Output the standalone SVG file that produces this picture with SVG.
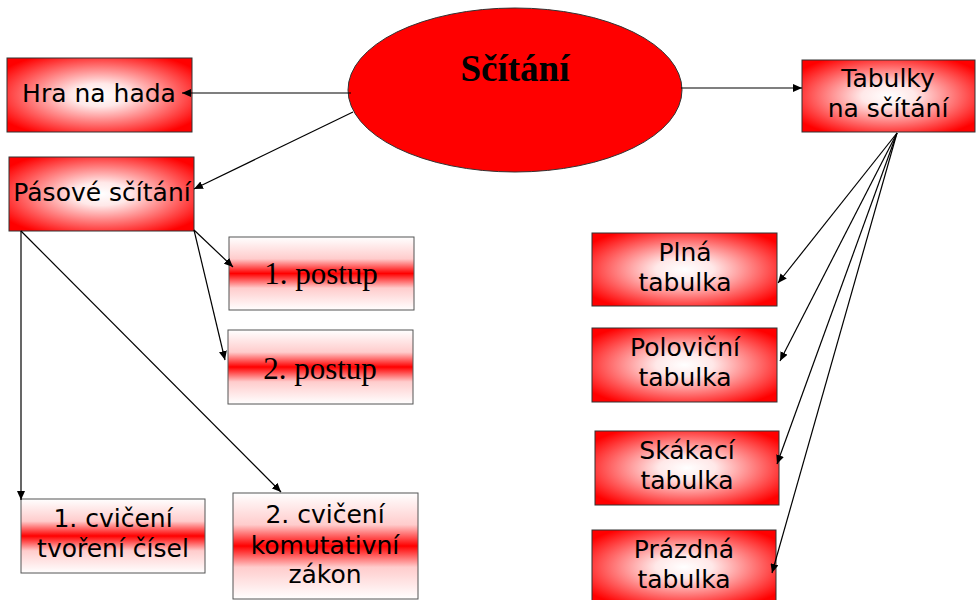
<svg xmlns="http://www.w3.org/2000/svg" width="980" height="600" viewBox="0 0 980 600">
<defs>
<radialGradient id="rg" cx="0.5" cy="0.5" r="0.62">
<stop offset="0" stop-color="#ffffff"/>
<stop offset="0.25" stop-color="#ffe8e8"/>
<stop offset="1" stop-color="#ff0000"/>
</radialGradient>
<linearGradient id="lg" x1="0" y1="0" x2="0" y2="1">
<stop offset="0" stop-color="#ffffff"/>
<stop offset="0.3" stop-color="#ffcccc"/>
<stop offset="0.5" stop-color="#ff0000"/>
<stop offset="0.7" stop-color="#ffcccc"/>
<stop offset="1" stop-color="#ffffff"/>
</linearGradient>
<marker id="ah" markerWidth="9" markerHeight="8" refX="9" refY="4" orient="auto" markerUnits="userSpaceOnUse">
<path d="M0,0 L9,4 L0,8 Z" fill="#000"/>
</marker>
</defs>
<style>
.r{fill:url(#rg);stroke:#333;stroke-width:1}
.l{fill:url(#lg);stroke:#555;stroke-width:1}
.s{font-family:"DejaVu Sans",sans-serif;font-size:25px;fill:#000;text-anchor:middle}
.t{font-family:"Liberation Serif",serif;font-size:31px;fill:#000;text-anchor:middle}
.c line{stroke:#000;stroke-width:1.2;marker-end:url(#ah)}
</style>
<rect width="980" height="600" fill="#fff"/>
<g id="scitani">
<ellipse cx="515" cy="90" rx="167" ry="82" fill="#ff0000" stroke="#333" stroke-width="1"/>
<text x="515" y="81" font-family="Liberation Serif, serif" font-size="37" font-weight="bold" text-anchor="middle">Sčítání</text>
</g>
<g id="hra">
<rect class="r" x="7" y="58" width="185" height="74"/>
<text class="s" x="99" y="102">Hra na hada</text>
</g>
<g id="pasove">
<rect class="r" x="9" y="157" width="185" height="74"/>
<text class="s" x="102" y="201">Pásové sčítání</text>
</g>
<g id="postup1">
<rect class="l" x="229" y="237" width="185" height="73"/>
<text class="t" x="321" y="284">1. postup</text>
</g>
<g id="postup2">
<rect class="l" x="228" y="330" width="185" height="74"/>
<text class="t" x="320" y="379">2. postup</text>
</g>
<g id="cviceni1">
<rect class="l" x="21" y="499" width="184" height="74"/>
<text class="s" x="113" y="527">1. cvičení</text>
<text class="s" x="113" y="557">tvoření čísel</text>
</g>
<g id="cviceni2">
<rect class="l" x="233" y="493" width="185" height="106"/>
<text class="s" x="325" y="523">2. cvičení</text>
<text class="s" x="325" y="554">komutativní</text>
<text class="s" x="325" y="583">zákon</text>
</g>
<g id="tabulky">
<rect class="r" x="802" y="60" width="173" height="72"/>
<text class="s" x="888" y="87">Tabulky</text>
<text class="s" x="888" y="117">na sčítání</text>
</g>
<g id="plna">
<rect class="r" x="592" y="233" width="185" height="73"/>
<text class="s" x="685" y="261">Plná</text>
<text class="s" x="685" y="291">tabulka</text>
</g>
<g id="polovicni">
<rect class="r" x="592" y="328" width="185" height="74"/>
<text class="s" x="685" y="356">Poloviční</text>
<text class="s" x="685" y="386">tabulka</text>
</g>
<g id="skakaci">
<rect class="r" x="595" y="431" width="184" height="74"/>
<text class="s" x="687" y="459">Skákací</text>
<text class="s" x="687" y="489">tabulka</text>
</g>
<g id="prazdna">
<rect class="r" x="592" y="530" width="184" height="74"/>
<text class="s" x="684" y="558">Prázdná</text>
<text class="s" x="684" y="588">tabulka</text>
</g>
<g class="c" id="connectors">
<line x1="351" y1="93" x2="182" y2="93"/>
<line x1="353" y1="112" x2="194" y2="189"/>
<line x1="681" y1="88" x2="802" y2="88"/>
<line x1="194" y1="230" x2="233" y2="267"/>
<line x1="194" y1="230" x2="225" y2="360"/>
<line x1="21" y1="231" x2="21" y2="500"/>
<line x1="21" y1="231" x2="281" y2="492"/>
<line x1="897" y1="133" x2="778" y2="283"/>
<line x1="897" y1="133" x2="780" y2="361"/>
<line x1="897" y1="133" x2="777" y2="464"/>
<line x1="897" y1="133" x2="772" y2="573"/>
</g>
</svg>
